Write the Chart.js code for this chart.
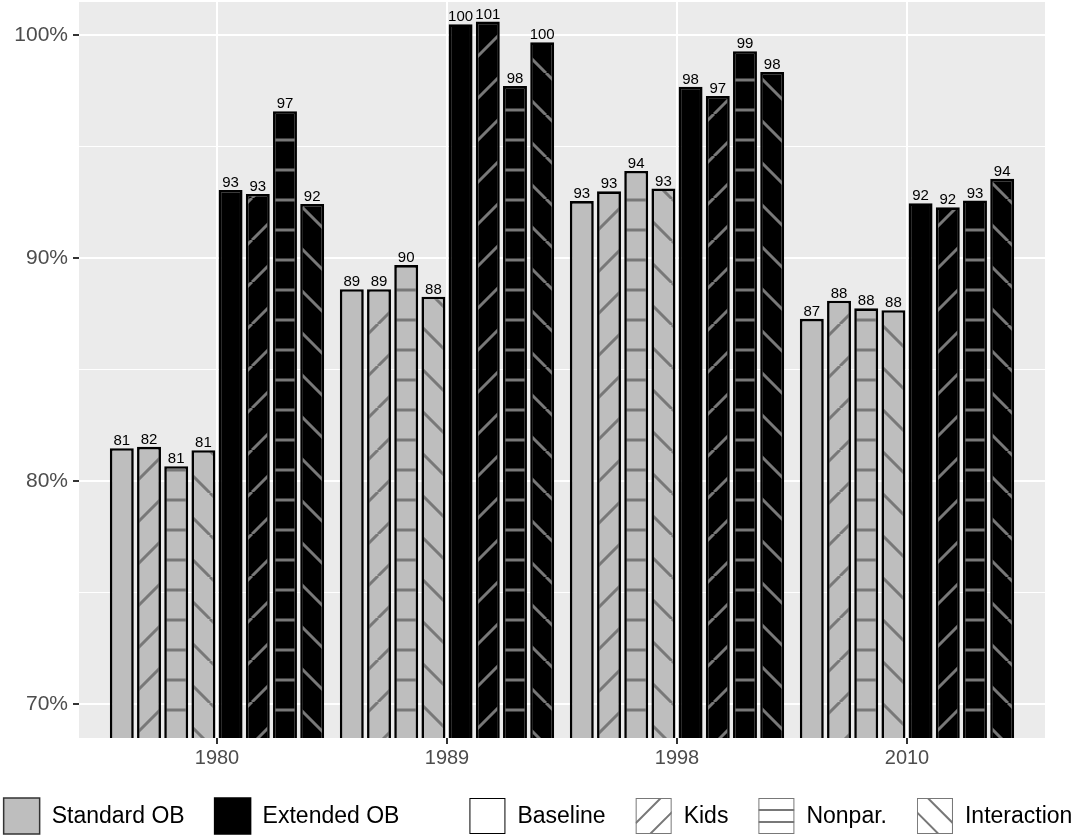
<!DOCTYPE html>
<html>
<head>
<meta charset="utf-8">
<script src="https://cdn.jsdelivr.net/npm/chart.js@4.4.0/dist/chart.umd.min.js"></script>
<style>
  html, body { margin: 0; padding: 0; background: #fff; }
</style>
</head>
<body>
<canvas id="chart" width="1076" height="836"></canvas>
<script>
const years = ['1980', '1989', '1998', '2010'];
const methods = ['Standard OB', 'Extended OB'];
const specs = ['Baseline', 'Kids', 'Nonpar.', 'Interaction'];

// shares in %, one array per method x specification
const stdBaseline    = [81.47, 88.60, 92.55, 87.27];
const stdKids        = [81.53, 88.60, 92.99, 88.08];
const stdNonpar      = [80.66, 89.68, 93.90, 87.74];
const stdInteraction = [81.38, 88.26, 93.12, 87.66];
const extBaseline    = [93.05, 100.48, 97.68, 92.45];
const extKids        = [92.87, 100.60, 97.26, 92.27];
const extNonpar      = [96.58, 97.71, 99.27, 92.58];
const extInteraction = [92.42, 99.67, 98.34, 93.55];

const yTicks = [70, 80, 90, 100];

const fills = ['#bebebe', '#000000'];
const lineGray = '#787878';
const kinds = ['baseline', 'kids', 'nonpar', 'interaction'];
const fontFamily = '"Liberation Sans", Arial, sans-serif';

function makePattern(kind, fill) {
  if (kind === 'baseline') return fill;
  const s = kind === 'nonpar' ? 30 : 42;
  const c = document.createElement('canvas');
  c.width = s; c.height = s;
  const g = c.getContext('2d');
  g.fillStyle = fill;
  g.fillRect(0, 0, s, s);
  g.strokeStyle = lineGray;
  g.lineWidth = 3;
  g.beginPath();
  if (kind === 'nonpar') {
    g.moveTo(0, s / 2); g.lineTo(s, s / 2);
  } else {
    for (let k = -1; k <= 1; k++) {
      if (kind === 'kids') { g.moveTo(k * s, s); g.lineTo(k * s + s, 0); }
      else { g.moveTo(k * s, 0); g.lineTo(k * s + s, s); }
    }
  }
  g.stroke();
  const p = g.createPattern(c, 'repeat');
  const shift = { kids: [0, 30], nonpar: [0, 5], interaction: [0, 31] }[kind];
  p.setTransform(new DOMMatrix().translate(shift[0], shift[1]));
  return p;
}

const series = [
  [stdBaseline, stdKids, stdNonpar, stdInteraction],
  [extBaseline, extKids, extNonpar, extInteraction]
];

const datasets = [];
series.forEach((group, m) => {
  group.forEach((vals, k) => {
    datasets.push({
      label: methods[m] + ' - ' + specs[k],
      data: vals.map((v, i) => ({ x: i + 1, y: v })),
      backgroundColor: makePattern(kinds[k], fills[m]),
      borderColor: '#000',
      borderWidth: 2.6,
      borderSkipped: 'start',
      categoryPercentage: 0.946,
      barPercentage: 0.88
    });
  });
});

const panelBg = {
  id: 'panelBg',
  beforeDraw(chart) {
    const { ctx, chartArea: a } = chart;
    ctx.save();
    ctx.fillStyle = '#ebebeb';
    ctx.fillRect(a.left, a.top, a.right - a.left, a.bottom - a.top);
    ctx.restore();
  }
};

const valueLabels = {
  id: 'valueLabels',
  afterDatasetsDraw(chart) {
    const ctx = chart.ctx;
    ctx.save();
    ctx.font = '15px ' + fontFamily;
    ctx.fillStyle = '#000';
    ctx.textAlign = 'center';
    ctx.textBaseline = 'bottom';
    chart.data.datasets.forEach((ds, di) => {
      chart.getDatasetMeta(di).data.forEach((el, i) => {
        ctx.fillText(String(Math.round(ds.data[i].y)), el.x, el.y + 0.5);
      });
    });
    ctx.restore();
  }
};

function drawKey(ctx, kind, x, y, s) {
  ctx.save();
  if (kind === 'standard' || kind === 'extended') {
    ctx.fillStyle = kind === 'standard' ? fills[0] : fills[1];
    ctx.fillRect(x, y, s, s);
    ctx.strokeStyle = kind === 'standard' ? '#333' : '#000';
    ctx.lineWidth = 1.5;
    ctx.strokeRect(x, y, s, s);
  } else {
    ctx.fillStyle = '#fff';
    ctx.fillRect(x, y, s, s);
    ctx.beginPath();
    ctx.rect(x, y, s, s);
    ctx.clip();
    ctx.strokeStyle = lineGray;
    ctx.lineWidth = 2;
    ctx.beginPath();
    if (kind === 'nonpar') {
      ctx.moveTo(x, y + s / 3); ctx.lineTo(x + s, y + s / 3);
      ctx.moveTo(x, y + 2 * s / 3); ctx.lineTo(x + s, y + 2 * s / 3);
    } else if (kind === 'kids') {
      [0.7, 1.4].forEach(f => { ctx.moveTo(x, y + f * s); ctx.lineTo(x + f * s, y); });
    } else if (kind === 'interaction') {
      [0.7, 1.4].forEach(f => { ctx.moveTo(x + s - f * s, y); ctx.lineTo(x + s, y + f * s); });
    }
    ctx.stroke();
    ctx.strokeStyle = kind === 'baseline' ? '#000' : lineGray;
    ctx.lineWidth = 2;
    ctx.strokeRect(x, y, s, s);
  }
  ctx.restore();
}

const bottomLegend = {
  id: 'bottomLegend',
  afterDraw(chart) {
    const ctx = chart.ctx;
    const box = 36, boxGap = 12, itemGap = 30, groupGap = 70;
    const groups = [
      methods.map((t, i) => ({ text: t, kind: i === 0 ? 'standard' : 'extended' })),
      specs.map((t, i) => ({ text: t, kind: kinds[i] }))
    ];
    ctx.save();
    ctx.font = '23px ' + fontFamily;
    let total = 0;
    groups.forEach((g, gi) => {
      g.forEach((it, ii) => {
        it.w = ctx.measureText(it.text).width;
        total += box + boxGap + it.w + (ii > 0 ? itemGap : 0);
      });
      if (gi > 0) total += groupGap;
    });
    let x = (chart.width - total) / 2;
    const cy = 816;
    ctx.textBaseline = 'middle';
    groups.forEach((g, gi) => {
      if (gi > 0) x += groupGap;
      g.forEach((it, ii) => {
        if (ii > 0) x += itemGap;
        drawKey(ctx, it.kind, x, cy - box / 2, box);
        ctx.fillStyle = '#000';
        ctx.fillText(it.text, x + box + boxGap, cy + 1);
        x += box + boxGap + it.w;
      });
    });
    ctx.restore();
  }
};

new Chart(document.getElementById('chart'), {
  type: 'bar',
  data: { datasets: datasets },
  plugins: [panelBg, valueLabels, bottomLegend],
  options: {
    responsive: false,
    animation: false,
    layout: { padding: { top: 2, right: 31, left: 0, bottom: 0 } },
    plugins: { legend: { display: false }, tooltip: { enabled: false } },
    scales: {
      x: {
        type: 'linear',
        min: 0.4,
        max: 4.6,
        offset: false,
        afterBuildTicks(scale) { scale.ticks = years.map((y, i) => ({ value: i + 1 })); },
        afterFit(scale) {
          scale.height = 98;
          scale.paddingLeft = 0; scale.paddingRight = 0;
        },
        ticks: {
          callback: v => years[v - 1],
          color: '#4d4d4d',
          font: { family: fontFamily, size: 20 },
          padding: 2,
          maxRotation: 0
        },
        grid: { offset: false, color: '#ffffff', lineWidth: 2, tickColor: '#333333', tickLength: 6 },
        border: { display: false }
      },
      y: {
        min: 68.47,
        max: 101.48,
        afterBuildTicks(scale) {
          const t = [];
          for (let v = 70; v <= 100; v += 5) t.push({ value: v });
          scale.ticks = t;
        },
        afterFit(scale) {
          scale.width = 79;
          scale.paddingTop = 0; scale.paddingBottom = 0;
        },
        ticks: {
          callback: v => yTicks.includes(v) ? v + '%' : '',
          color: '#4d4d4d',
          font: { family: fontFamily, size: 21 },
          padding: 5
        },
        grid: {
          color: '#ffffff',
          lineWidth: c => yTicks.includes(c.tick && c.tick.value) ? 2 : 1,
          tickColor: c => yTicks.includes(c.tick && c.tick.value) ? '#333333' : 'rgba(0,0,0,0)',
          tickLength: 6
        },
        border: { display: false }
      }
    }
  }
});
</script>
</body>
</html>
